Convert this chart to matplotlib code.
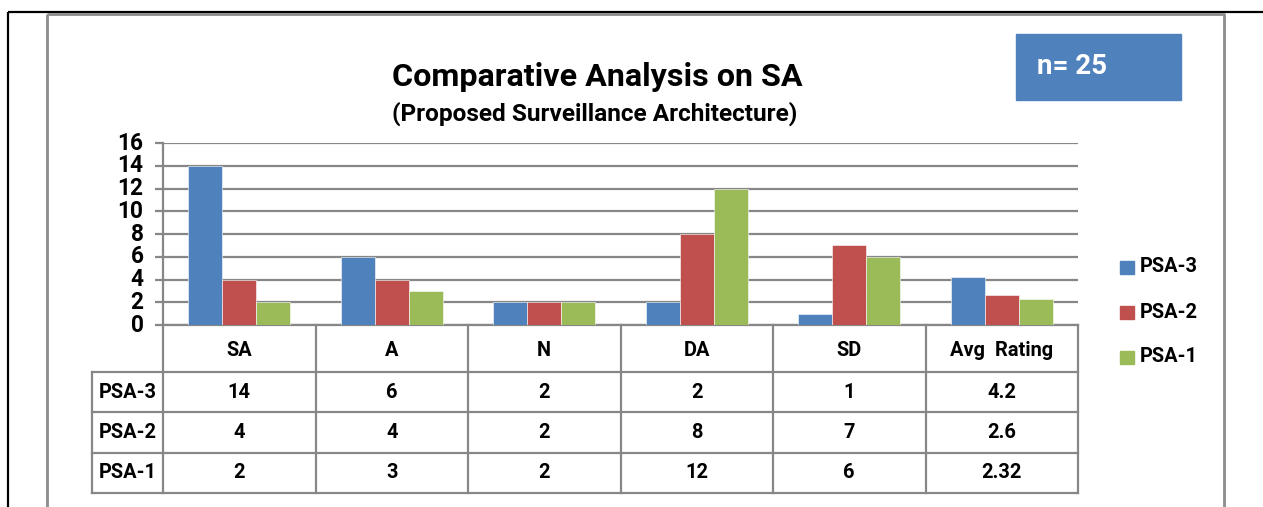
import matplotlib
matplotlib.use("Agg")
import matplotlib.pyplot as plt
import matplotlib.transforms as mtransforms
import numpy as np

categories = ["SA", "A", "N", "DA", "SD", "Avg  Rating"]
series_names = ["PSA-3", "PSA-2", "PSA-1"]
psa3 = [14, 6, 2, 2, 1, 4.2]
psa2 = [4, 4, 2, 8, 7, 2.6]
psa1 = [2, 3, 2, 12, 6, 2.32]
table_text = [
    ["14", "6", "2", "2", "1", "4.2"],
    ["4", "4", "2", "8", "7", "2.6"],
    ["2", "3", "2", "12", "6", "2.32"],
]
yticks = [0, 2, 4, 6, 8, 10, 12, 14, 16]
title = "Comparative Analysis on SA"
subtitle = "(Proposed Surveillance Architecture)"
n_label = "n= 25"

colors = ["#4F81BD", "#C0504D", "#9BBB59"]
grid_c = "#878787"
FONT = "Roboto"

W, H = 1263, 507
fig = plt.figure(figsize=(W / 100, H / 100), dpi=100)
fig.patch.set_facecolor("white")
renderer = fig.canvas.get_renderer()


def fit_size(s, target_px, base=12):
    t = fig.text(0, 0, s, fontfamily=FONT, fontweight="bold", fontsize=base)
    w = t.get_window_extent(renderer=renderer).width
    t.remove()
    return base * target_px / w


title_fs = fit_size(title, 410)
sub_fs = fit_size(subtitle, 405)
body_fs = fit_size("PSA-3", 58)
tick_fs = fit_size("16", 26)
n_fs = fit_size(n_label, 70)

# overlay axes in pixel coordinates
over = fig.add_axes([0, 0, 1, 1], zorder=0)
over.set_xlim(0, W)
over.set_ylim(H, 0)
over.axis("off")
over.patch.set_alpha(0)

# frame lines
over.plot([8, W], [12, 12], color="black", lw=1.6, solid_capstyle="butt")
over.plot([8, 8], [12, H], color="black", lw=1.6, solid_capstyle="butt")
over.plot([47, 1225], [13.5, 13.5], color="#8c8c8c", lw=2, solid_capstyle="butt")
over.plot([47, 47], [13.5, H], color="#8c8c8c", lw=2, solid_capstyle="butt")
over.plot([1224, 1224], [13.5, H], color="#8c8c8c", lw=2, solid_capstyle="butt")

# main axes
x0, x1 = 163, 1078
ytop, ybot = 143, 325
ax = fig.add_axes([x0 / W, 1 - ybot / H, (x1 - x0) / W, (ybot - ytop) / H], zorder=2)
ax.patch.set_alpha(0)
n = len(categories)
x = np.arange(n)
bw = 0.223
for k, (vals, c) in enumerate(zip([psa3, psa2, psa1], colors)):
    ax.bar(x + (k - 1) * bw, vals, width=bw, color=c, edgecolor="white", linewidth=0.4, zorder=3)
ax.set_xlim(-0.5, n - 0.5)
ax.set_ylim(0, 16)
ax.set_yticks(yticks)
ax.set_yticklabels([str(t) for t in yticks], fontfamily=FONT, fontweight="bold", fontsize=tick_fs)
ax.yaxis.grid(True, color=grid_c, lw=1.6, zorder=1)
ax.set_xticks([])
for s in ["top", "right", "bottom"]:
    ax.spines[s].set_visible(False)
ax.spines["left"].set_color(grid_c)
ax.spines["left"].set_linewidth(1.6)
ax.tick_params(axis="y", length=6, width=1.6, color=grid_c, pad=8)
for lbl in ax.get_yticklabels():
    lbl.set_verticalalignment("center")

# table
tr = mtransforms.blended_transform_factory(ax.transData, over.transData)
rows_y = [325, 372, 412, 453, 493]
lab_left = -0.5 - 71 / ((x1 - x0) / n)
tkw = dict(color=grid_c, lw=1.6, transform=tr, clip_on=False, solid_capstyle="projecting", zorder=2)
over.plot([-0.5, n - 0.5], [rows_y[0], rows_y[0]], **tkw)
for yy in rows_y[1:]:
    over.plot([lab_left, n - 0.5], [yy, yy], **tkw)
for i in range(n + 1):
    over.plot([i - 0.5, i - 0.5], [rows_y[0], rows_y[-1]], **tkw)
over.plot([lab_left, lab_left], [rows_y[1], rows_y[-1]], **tkw)

txt = dict(fontfamily=FONT, fontweight="bold", fontsize=body_fs, ha="center", va="center", transform=tr)
for i, cat in enumerate(categories):
    over.text(i, (rows_y[0] + rows_y[1]) / 2 + 2, cat, **txt)
for r, name in enumerate(series_names):
    yc = (rows_y[r + 1] + rows_y[r + 2]) / 2
    over.text((lab_left - 0.5) / 2, yc, name, **txt)
    for i in range(n):
        over.text(i, yc, table_text[r][i], **txt)

# titles
over.text(597, 77, title, fontfamily=FONT, fontweight="bold", fontsize=title_fs, ha="center", va="center")
over.text(595, 114, subtitle, fontfamily=FONT, fontweight="bold", fontsize=sub_fs, ha="center", va="center")

# n box
over.add_patch(plt.Rectangle((1016, 34), 165, 66, color="#4F81BD", zorder=1))
over.text(1037, 66, n_label, fontfamily=FONT, fontweight="bold", fontsize=n_fs, color="white",
          ha="left", va="center", zorder=2)

# legend
for k, name in enumerate(series_names):
    yc = 267 + k * 45
    over.add_patch(plt.Rectangle((1120, yc - 6.5), 14, 13, color=colors[k]))
    over.text(1140, yc, name, fontfamily=FONT, fontweight="bold", fontsize=body_fs, ha="left", va="center")

fig.savefig("out.png", dpi=100, facecolor="white")
